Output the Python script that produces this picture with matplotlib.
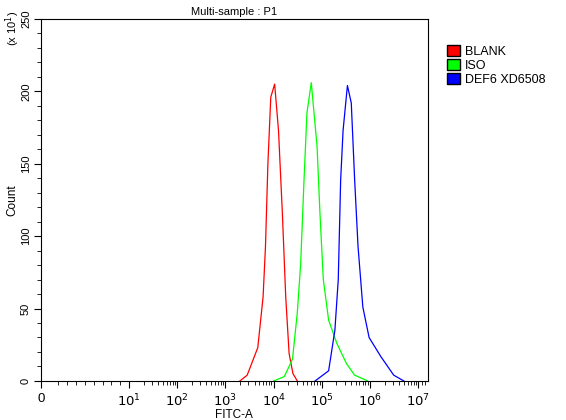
import matplotlib
matplotlib.use("Agg")
import matplotlib.pyplot as plt
import numpy as np
from matplotlib.patches import Patch

# log10(FITC-A) and counts (x10^1)
red_logx = [3.30, 3.45, 3.67, 3.78, 3.83, 3.88, 3.94, 4.02, 4.10, 4.18, 4.25, 4.32, 4.40, 4.49]
red_cnt = [0, 4, 23, 58, 93, 150, 196, 205, 173, 116, 58, 19, 5, 0]
green_logx = [4.0, 4.22, 4.39, 4.49, 4.56, 4.63, 4.69, 4.78, 4.90, 4.96, 5.03, 5.14, 5.31, 5.51, 5.68, 5.95]
green_cnt = [0, 3, 15, 47, 81, 139, 185, 206, 162, 116, 70, 42, 26, 12, 4, 0]
blue_logx = [4.86, 5.14, 5.27, 5.34, 5.39, 5.44, 5.53, 5.61, 5.68, 5.75, 5.85, 5.98, 6.22, 6.49, 6.70]
blue_cnt = [0, 7, 35, 70, 139, 173, 204, 192, 139, 93, 51, 30, 17, 4, 0]
labels = ["BLANK", "ISO", "DEF6 XD6508"]
colors = ["#ff0000", "#00ff00", "#0000ff"]

plt.rcParams["font.family"] = "Liberation Sans"
fig = plt.figure(figsize=(5.66, 4.2), dpi=100)
ax = fig.add_axes([0.072, 0.093, 0.684, 0.862])
for lx, c, col in zip([red_logx, green_logx, blue_logx], [red_cnt, green_cnt, blue_cnt], colors):
    ax.plot(10 ** np.array(lx), c, color=col, lw=0.9)

ax.set_xscale("symlog", linthresh=10, linscale=1.65)
ax.set_xlim(0, 10 ** 7.2)
ax.set_ylim(0, 250)
ax.set_xticks([0] + [10 ** k for k in range(1, 8)])
ax.set_xticklabels(["0"] + [f"$10^{k}$" for k in range(1, 8)], fontsize=9.5)
minors = [m for m in range(2, 10)] + [m * 10 ** k for k in range(1, 7) for m in range(2, 10)] + [1.2e7, 1.4e7]
ax.set_xticks(minors, minor=True)
ax.set_yticks(range(0, 251, 50))
ax.set_yticks(range(0, 251, 10), minor=True)
ax.tick_params(axis="y", labelrotation=90, labelsize=8, pad=2)
for t in ax.get_yticklabels():
    t.set_va("center")
ax.tick_params(which="major", length=5)
ax.tick_params(which="minor", length=3)
ax.set_xlabel("FITC-A", fontsize=8.5, labelpad=0)
ax.set_ylabel("Count", fontsize=8.5, labelpad=2)
ax.set_title("Multi-sample : P1", fontsize=8, pad=3)
fig.text(0.006, 0.975, "(x 10$^1$)", rotation=90, fontsize=8, va="top")
handles = [Patch(facecolor=c, edgecolor="black") for c in colors]
fig.legend(handles, labels, loc="upper left", bbox_to_anchor=(0.77, 0.92), frameon=False,
           fontsize=9, handlelength=1.0, handleheight=1.0, handletextpad=0.4, labelspacing=0.1)
fig.savefig("out.png")
